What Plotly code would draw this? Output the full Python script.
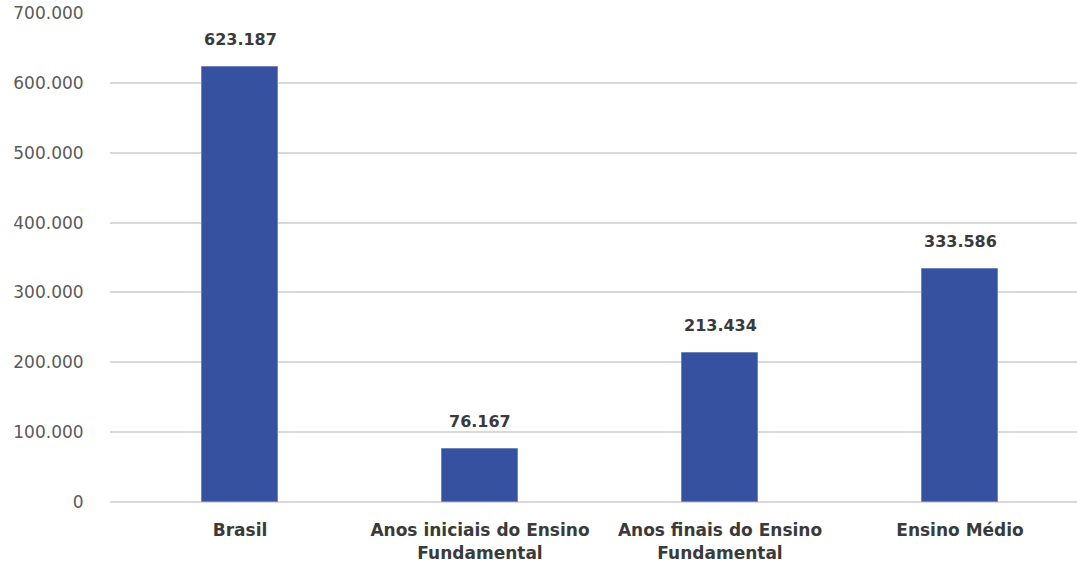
import plotly.graph_objects as go

categories = ["Brasil", "Anos iniciais do Ensino<br>Fundamental",
              "Anos finais do Ensino<br>Fundamental", "Ensino Médio"]
values = [623187, 76167, 213434, 333586]
value_labels = ["623.187", "76.167", "213.434", "333.586"]
tick_vals = [0, 100000, 200000, 300000, 400000, 500000, 600000, 700000]
tick_text = ["0", "100.000", "200.000", "300.000", "400.000", "500.000", "600.000", "700.000"]

fig = go.Figure()
fig.add_trace(go.Bar(
    x=list(range(len(categories))), y=values,
    marker=dict(color="#36519f", line=dict(color="#6f83bf", width=1)),
    width=0.317, hoverinfo="skip",
))

for i, (v, lab) in enumerate(zip(values, value_labels)):
    fig.add_annotation(x=i, y=v, text=f"<b>{lab}</b>", showarrow=False,
                       yanchor="bottom", yshift=16,
                       font=dict(family="DejaVu Sans", size=16, color="#3a3a3a"))

fig.update_layout(
    width=1077, height=563,
    margin=dict(l=110, r=0, t=13, b=61),
    plot_bgcolor="white", paper_bgcolor="white",
    showlegend=False,
    bargap=0,
)
fig.update_xaxes(
    range=[-0.5417, 3.4875],
    tickvals=list(range(len(categories))),
    ticktext=[f"<b>{c}</b>" for c in categories],
    tickfont=dict(family="DejaVu Sans", size=17, color="#3a3a3a"),
    showgrid=False, zeroline=False, showline=False,
    ticks="outside", ticklen=13, tickcolor="rgba(0,0,0,0)",
)
fig.update_yaxes(
    range=[0, 700000],
    tickvals=tick_vals, ticktext=tick_text,
    tickfont=dict(family="DejaVu Sans", size=17, color="#5a5a5a"),
    showgrid=True, gridcolor="#d9d9d9", gridwidth=2,
    zeroline=True, zerolinecolor="#d9d9d9", zerolinewidth=2,
    showline=False,
    ticks="outside", ticklen=22, tickcolor="rgba(0,0,0,0)",
)

fig.write_html("out.html")
